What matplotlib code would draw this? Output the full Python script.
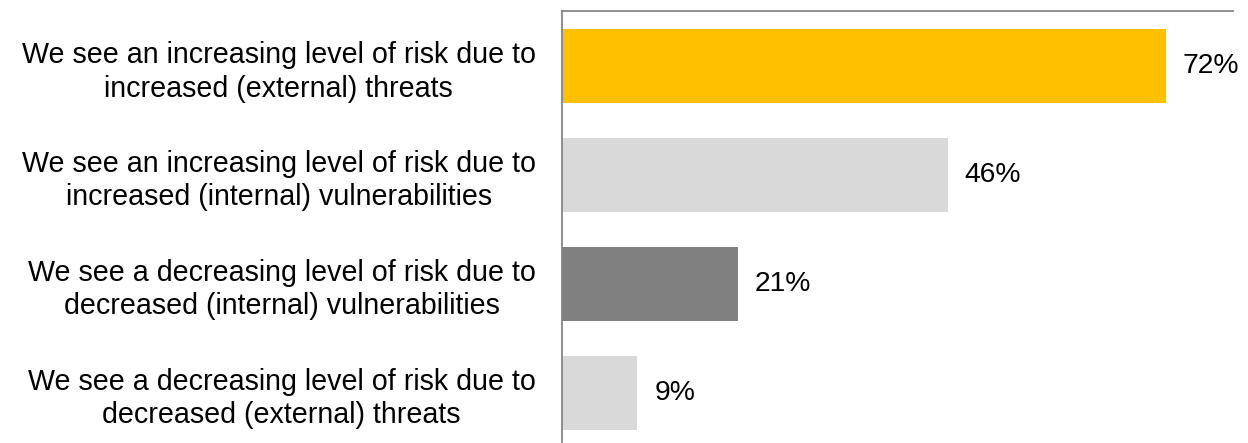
import matplotlib.pyplot as plt

plt.rcParams['font.family'] = ['Liberation Sans', 'DejaVu Sans']

etiquetas = [
    "We see an increasing level of risk due to\nincreased (external) threats",
    "We see an increasing level of risk due to\nincreased (internal) vulnerabilities",
    "We see a decreasing level of risk due to\ndecreased (internal) vulnerabilities",
    "We see a decreasing level of risk due to\ndecreased (external) threats",
]
porcentajes = [72, 46, 21, 9]
colores = ['#FFC000', '#D9D9D9', '#808080', '#D9D9D9']


def graficar_barras(etiquetas, porcentajes, colores):
    fig = plt.figure(figsize=(12.48, 4.43), dpi=100)
    ax = fig.add_axes([0.4503, 0.0023, 0.5377, 0.9729])

    posiciones = list(range(len(porcentajes)))
    ax.barh(posiciones, porcentajes, height=0.68, color=colores)

    for pos, valor in zip(posiciones, porcentajes):
        ax.annotate(f"{valor}%", xy=(valor, pos), xytext=(12, 0),
                    textcoords='offset points', va='center', ha='left',
                    fontsize=20.3, color='black')

    ax.set_xlim(0, 80)
    ax.set_ylim(3.45, -0.505)
    ax.set_yticks(posiciones)
    ax.set_yticklabels(etiquetas, fontsize=20.6, multialignment='center',
                       linespacing=1.25)
    ax.tick_params(axis='y', length=0, pad=19)
    ax.set_xticks([])

    for lado in ['right', 'bottom']:
        ax.spines[lado].set_visible(False)
    for lado in ['left', 'top']:
        ax.spines[lado].set_color('#868686')
        ax.spines[lado].set_linewidth(1.3)

    fig.savefig("out.png", dpi=100)


graficar_barras(etiquetas, porcentajes, colores)
